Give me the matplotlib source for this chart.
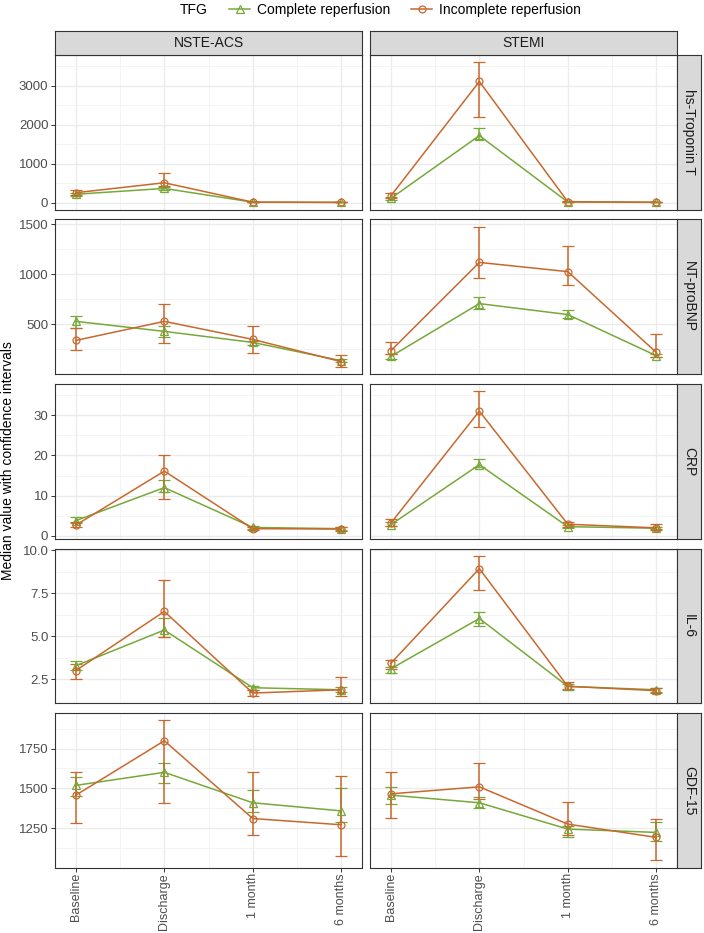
import matplotlib
matplotlib.use("Agg")
import matplotlib.pyplot as plt
from matplotlib.lines import Line2D
from matplotlib.ticker import FormatStrFormatter
import numpy as np

plt.rcParams['font.family'] = ['Liberation Sans', 'DejaVu Sans']

# Categories
timepoints = ["Baseline", "Discharge", "1 month", "6 months"]
panels = ["NSTE-ACS", "STEMI"]
biomarkers = ["hs-Troponin T", "NT-proBNP", "CRP", "IL-6", "GDF-15"]
groups = ["Complete reperfusion", "Incomplete reperfusion"]

# Values: each list is [NSTE-ACS row, STEMI row] over the 4 timepoints
tnt_complete = [[215, 365, 12, 6], [110, 1720, 15, 8]]
tnt_complete_lo = [[180, 330, 8, 4], [80, 1630, 10, 5]]
tnt_complete_hi = [[250, 410, 16, 8], [145, 1910, 20, 11]]
tnt_incomplete = [[255, 510, 12, 7], [175, 3110, 25, 10]]
tnt_incomplete_lo = [[200, 420, 8, 4], [110, 2200, 12, 6]]
tnt_incomplete_hi = [[320, 750, 18, 10], [255, 3610, 45, 15]]

bnp_complete = [[530, 430, 320, 138], [180, 707, 598, 188]]
bnp_complete_lo = [[463, 371, 290, 120], [150, 658, 566, 170]]
bnp_complete_hi = [[585, 486, 335, 155], [205, 776, 641, 205]]
bnp_incomplete = [[340, 530, 350, 128], [237, 1118, 1026, 221]]
bnp_incomplete_lo = [[244, 314, 215, 75], [200, 960, 894, 178]]
bnp_incomplete_hi = [[460, 699, 486, 198], [320, 1476, 1282, 408]]

crp_complete = [[3.8, 12.0, 2.1, 1.8], [2.8, 17.7, 2.3, 1.9]]
crp_complete_lo = [[3.2, 10.9, 1.8, 1.5], [2.4, 17.0, 2.0, 1.6]]
crp_complete_hi = [[4.6, 14.0, 2.5, 2.2], [3.4, 19.0, 2.7, 2.3]]
crp_incomplete = [[2.7, 16.1, 1.8, 1.7], [3.2, 31.0, 2.9, 2.0]]
crp_incomplete_lo = [[2.2, 9.2, 1.4, 1.1], [2.5, 27.0, 2.3, 1.5]]
crp_incomplete_hi = [[3.5, 20.0, 2.3, 2.3], [4.2, 36.0, 3.4, 2.9]]

il6_complete = [[3.3, 5.37, 2.02, 1.9], [3.12, 6.04, 2.1, 1.9]]
il6_complete_lo = [[3.06, 4.95, 1.9, 1.75], [2.87, 5.6, 1.9, 1.8]]
il6_complete_hi = [[3.6, 6.06, 2.1, 2.05], [3.25, 6.4, 2.25, 2.0]]
il6_incomplete = [[3.02, 6.45, 1.71, 1.9], [3.44, 8.94, 2.1, 1.85]]
il6_incomplete_lo = [[2.5, 4.94, 1.55, 1.54], [3.1, 7.7, 1.95, 1.7]]
il6_incomplete_hi = [[3.4, 8.3, 1.9, 2.63], [3.63, 9.7, 2.35, 2.0]]

gdf_complete = [[1519, 1601, 1410, 1359], [1458, 1410, 1245, 1224]]
gdf_complete_lo = [[1452, 1531, 1354, 1292], [1400, 1380, 1197, 1168]]
gdf_complete_hi = [[1570, 1662, 1488, 1504], [1508, 1446, 1266, 1292]]
gdf_incomplete = [[1458, 1799, 1311, 1272], [1466, 1510, 1276, 1193]]
gdf_incomplete_lo = [[1280, 1410, 1210, 1073], [1317, 1432, 1210, 1048]]
gdf_incomplete_hi = [[1601, 1929, 1606, 1581], [1601, 1659, 1417, 1311]]

# y ticks per biomarker row
tnt_ticks = [0, 1000, 2000, 3000]
bnp_ticks = [500, 1000, 1500]
crp_ticks = [0, 10, 20, 30]
il6_ticks = [2.5, 5.0, 7.5, 10.0]
gdf_ticks = [1250, 1500, 1750]

rows = [
    (tnt_complete, tnt_complete_lo, tnt_complete_hi,
     tnt_incomplete, tnt_incomplete_lo, tnt_incomplete_hi, tnt_ticks, '%g'),
    (bnp_complete, bnp_complete_lo, bnp_complete_hi,
     bnp_incomplete, bnp_incomplete_lo, bnp_incomplete_hi, bnp_ticks, '%g'),
    (crp_complete, crp_complete_lo, crp_complete_hi,
     crp_incomplete, crp_incomplete_lo, crp_incomplete_hi, crp_ticks, '%g'),
    (il6_complete, il6_complete_lo, il6_complete_hi,
     il6_incomplete, il6_incomplete_lo, il6_incomplete_hi, il6_ticks, '%.1f'),
    (gdf_complete, gdf_complete_lo, gdf_complete_hi,
     gdf_incomplete, gdf_incomplete_lo, gdf_incomplete_hi, gdf_ticks, '%g'),
]

GREEN = '#77a83a'
ORANGE = '#c8682d'
BORDER = '#333333'
GRID = '#ebebeb'
STRIP = '#d9d9d9'

W, H = 704, 933
fig = plt.figure(figsize=(W / 100, H / 100), dpi=100)

col_left = [55.3, 370.3]
col_w = 306.5
row_top = [55 + i * 164.5 for i in range(5)]
row_h = 154.5


def px_axes(l, t, w, h):
    return fig.add_axes([l / W, 1 - (t + h) / H, w / W, h / H])


def style_strip(sax):
    sax.set_facecolor(STRIP)
    sax.set_xticks([])
    sax.set_yticks([])
    for sp in sax.spines.values():
        sp.set_color(BORDER)
        sp.set_linewidth(0.8)


x = np.arange(len(timepoints))

for r, (cm, clo, chi, im, ilo, ihi, ticks, fmt) in enumerate(rows):
    allv = np.concatenate([np.ravel(clo), np.ravel(chi), np.ravel(ilo), np.ravel(ihi)])
    vmin, vmax = allv.min(), allv.max()
    pad = 0.05 * (vmax - vmin)
    step = ticks[1] - ticks[0]
    minor = np.arange(ticks[0] - step / 2, ticks[-1] + step, step)

    for c in range(2):
        ax = px_axes(col_left[c], row_top[r], col_w, row_h)
        ax.set_axisbelow(True)

        ax.set_xticks(x)
        ax.set_xticks([0.5, 1.5, 2.5], minor=True)
        ax.set_yticks(ticks)
        ax.set_yticks(minor, minor=True)
        ax.set_xlim(-0.233, 3.233)
        ax.set_ylim(vmin - pad, vmax + pad)
        ax.yaxis.set_major_formatter(FormatStrFormatter(fmt))
        ax.grid(True, which='major', color=GRID, lw=1.0)
        ax.grid(True, which='minor', color='#f2f2f2', lw=0.6)
        ax.tick_params(which='minor', length=0)
        ax.tick_params(which='major', length=3, width=0.7, color=BORDER,
                       labelsize=9.5, labelcolor='#4d4d4d', pad=2)

        for sp in ax.spines.values():
            sp.set_color(BORDER)
            sp.set_linewidth(0.8)

        if c == 1:
            ax.tick_params(axis='y', length=0, labelleft=False)
        if r < 4:
            ax.tick_params(axis='x', length=0, labelbottom=False)
        else:
            ax.tick_params(axis='x', pad=1, labelsize=9)
            ax.set_xticklabels(timepoints, rotation=90, va='top', ha='center')

        for med, lo, hi, col, mk in [(cm[c], clo[c], chi[c], GREEN, '^'),
                                     (im[c], ilo[c], ihi[c], ORANGE, 'o')]:
            med = np.array(med, dtype=float)
            err = [med - np.array(lo), np.array(hi) - med]
            ax.errorbar(x, med, yerr=err, fmt='-', marker=mk, color=col,
                        mfc='none', ms=5.5 if mk == '^' else 5, mew=0.9,
                        lw=1.1, elinewidth=1.1, capsize=4.5, capthick=1.1)

        # top strips
        if r == 0:
            sax = px_axes(col_left[c], 31, col_w, 24)
            style_strip(sax)
            sax.text(0.5, 0.5, panels[c], ha='center', va='center',
                     fontsize=10, color='#1a1a1a', transform=sax.transAxes)

    # right strip
    rax = px_axes(677, row_top[r], 24, row_h)
    style_strip(rax)
    rax.text(0.5, 0.5, biomarkers[r], ha='center', va='center', rotation=270,
             fontsize=10, color='#1a1a1a', transform=rax.transAxes)

fig.text(8 / W, 1 - 461 / H, "Median value with confidence intervals",
         rotation=90, ha='center', va='center', fontsize=10)

# legend on top
handles = [Line2D([], [], color=GREEN, marker='^', mfc='none', ms=5.5, mew=0.9, lw=1.1),
           Line2D([], [], color=ORANGE, marker='o', mfc='none', ms=5, mew=0.9, lw=1.1)]
fig.text(180 / W, 1 - 10 / H, "TFG", ha='left', va='center', fontsize=10)
fig.legend(handles, groups, loc='center', bbox_to_anchor=(405 / W, 1 - 10 / H),
           ncol=2, frameon=False, fontsize=10, handlelength=1.5,
           handletextpad=0.5, columnspacing=1.5, borderpad=0)

fig.savefig("out.png", dpi=100)
